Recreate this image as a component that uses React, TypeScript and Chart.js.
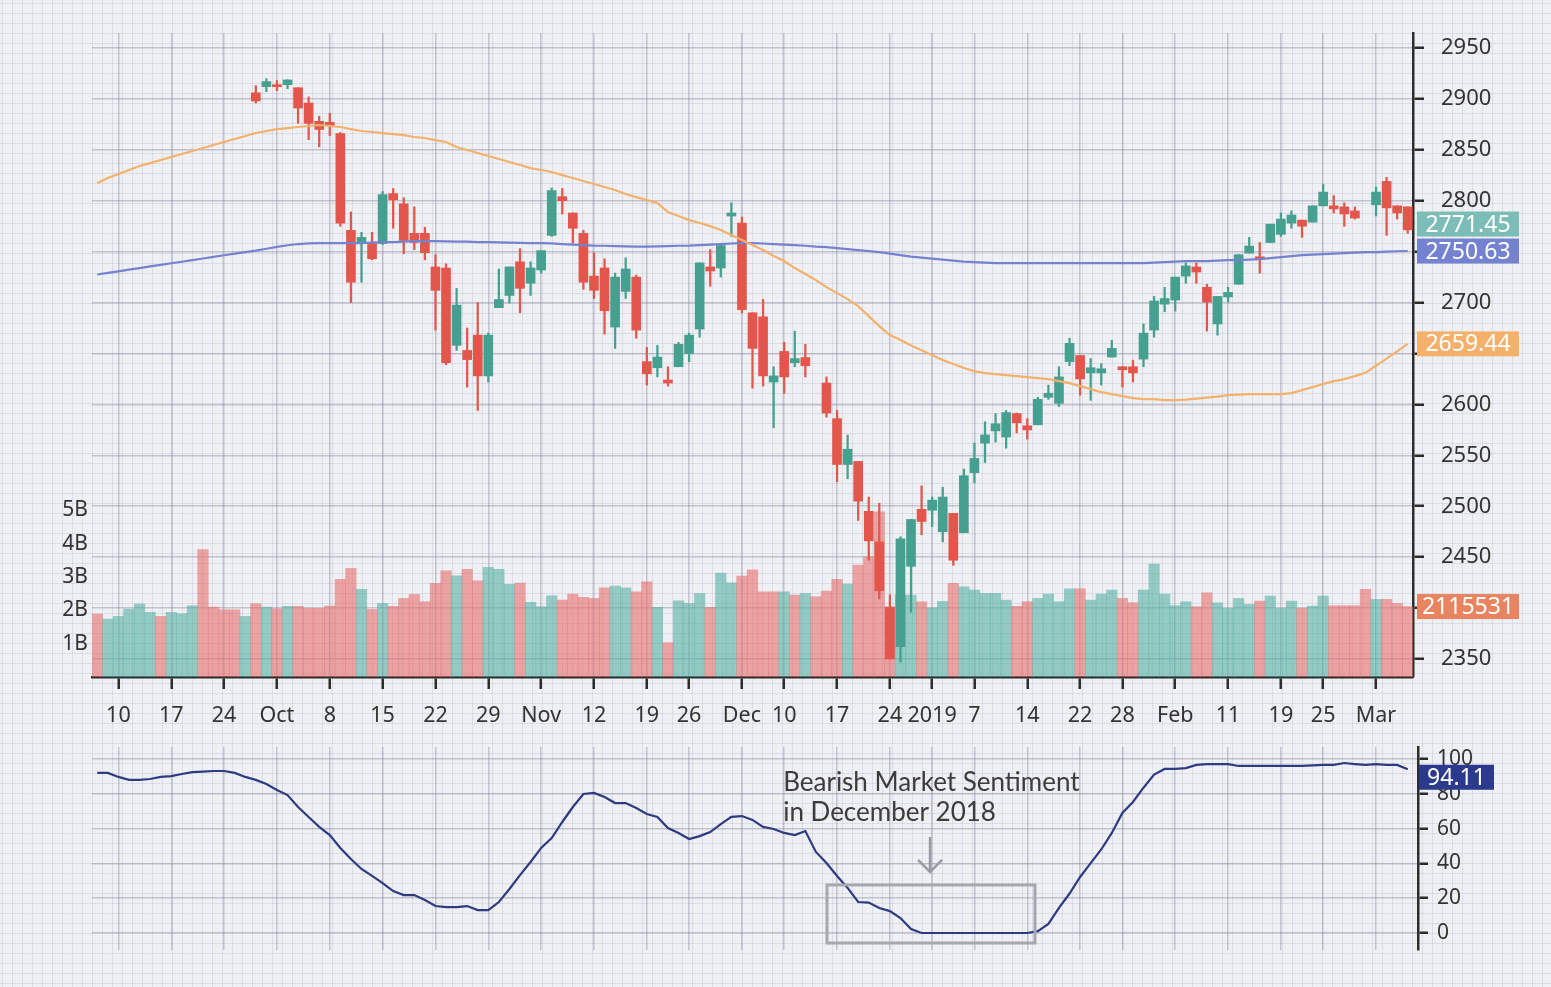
import React, { useEffect, useRef } from 'react';
import { Chart, registerables } from 'chart.js';

Chart.register(...registerables);

const N = null;

// Trading sessions shown on the x axis
const tradingDays: [string, number[]][] = [
  ['2018-09', [6, 7, 10, 11, 12, 13, 14, 17, 18, 19, 20, 21, 24, 25, 26, 27, 28]],
  ['2018-10', [1, 2, 3, 4, 5, 8, 9, 10, 11, 12, 15, 16, 17, 18, 19, 22, 23, 24, 25, 26, 29, 30, 31]],
  ['2018-11', [1, 2, 5, 6, 7, 8, 9, 12, 13, 14, 15, 16, 19, 20, 21, 23, 26, 27, 28, 29, 30]],
  ['2018-12', [3, 4, 6, 7, 10, 11, 12, 13, 14, 17, 18, 19, 20, 21, 24, 26, 27, 28, 31]],
  ['2019-01', [2, 3, 4, 7, 8, 9, 10, 11, 14, 15, 16, 17, 18, 22, 23, 24, 25, 28, 29, 30, 31]],
  ['2019-02', [1, 4, 5, 6, 7, 8, 11, 12, 13, 14, 15, 19, 20, 21, 22, 25, 26, 27, 28]],
  ['2019-03', [1, 4, 5, 6, 7]],
];
const dates = tradingDays.flatMap(([m, ds]) => ds.map((d) => `${m}-${String(d).padStart(2, '0')}`));

const tickIndex = [2, 7, 12, 17, 22, 27, 32, 37, 42, 47, 52, 56, 61, 65, 70, 75, 79, 83, 88, 93, 97, 102, 107, 112, 116, 121];
const tickText = ['10', '17', '24', 'Oct', '8', '15', '22', '29', 'Nov', '12', '19', '26', 'Dec', '10', '17', '24', '2019', '7', '14', '22', '28', 'Feb', '11', '19', '25', 'Mar'];

const open = [
  N, N, N, N, N, N, N, N, N, N,
  N, N, N, N, N, 2906, 2912, 2913, 2914, 2911,
  2896, 2878, 2877, 2866, 2771, 2758, 2758, 2758, 2807, 2797,
  2768, 2768, 2735, 2734, 2658, 2653, 2668, 2628, 2695, 2707,
  2740, 2719, 2732, 2766, 2804, 2788, 2768, 2726, 2734, 2676,
  2711, 2725, 2642, 2636, 2624, 2637, 2650, 2674, 2735, 2734,
  2785, 2778, 2690, 2686, 2622, 2652, 2641, 2646, N, 2621,
  2586, 2541, 2544, 2495, 2465, 2401, 2362, 2441, 2497, 2496,
  2475, 2493, 2474, 2533, 2562, 2574, 2568, 2591, 2579, 2580,
  2607, 2601, 2642, 2648, 2631, 2631, 2646.5, 2637, 2637, 2644.5,
  2673, 2698.5, 2702.5, 2726, 2735, 2715, 2679, 2705.5, 2718, 2748.6,
  2745, 2759, 2767, 2778, 2781, 2779, 2795, 2795, 2794, 2790,
  N, 2796, 2819, 2795, 2794,
];
const high = [
  N, N, N, N, N, N, N, N, N, N,
  N, N, N, N, N, 2913, 2920, 2918, 2919, 2911,
  2902, 2883, 2886, 2867, 2789, 2769, 2769, 2809, 2812, 2803,
  2794, 2774, 2747, 2738, 2714, 2675, 2700, 2670, 2733, 2735,
  2753, 2740, 2751, 2812.5, 2812, 2788, 2771, 2749, 2743, 2729,
  2744, 2727, 2656, 2658, 2637, 2661, 2670, 2739, 2752, 2756.5,
  2798, 2784, 2690, 2703, 2637, 2661, 2672, 2659, N, 2627,
  2594, 2570, 2544, 2509, 2503, 2413, 2470, 2487, 2520, 2509,
  2518.7, 2493, 2536.5, 2562, 2583, 2591, 2594, 2591.5, 2586, 2607,
  2619, 2637, 2665, 2648, 2645, 2640, 2663, 2637, 2643.5, 2679,
  2706, 2715, 2725, 2739, 2739, 2718, 2706, 2715, 2747, 2764,
  2759, 2777, 2788, 2790, 2781, 2795, 2816, 2805, 2798, 2794,
  N, 2813.5, 2823, 2795, 2794,
];
const low = [
  N, N, N, N, N, N, N, N, N, N,
  N, N, N, N, N, 2896, 2907, 2908, 2910, 2876,
  2860, 2853, 2864, 2775, 2700, 2720, 2742, 2757, 2773, 2748,
  2752, 2742, 2673, 2639, 2653, 2617, 2594, 2622, 2695, 2699.5,
  2690, 2707, 2729, 2765, 2787, 2758.5, 2713, 2704, 2669, 2655,
  2704, 2665, 2619, 2627, 2618, 2637, 2642, 2666, 2716, 2725,
  2765, 2690, 2616, 2618, 2577, 2611, 2637, 2627, N, 2587.5,
  2524, 2527, 2486, 2447, 2409, 2350, 2347, 2396, 2472, 2480,
  2465, 2442, 2474, 2523, 2543, 2563, 2557, 2572, 2566, 2580,
  2605, 2598, 2638, 2609, 2604, 2619, 2646.5, 2617, 2622, 2637,
  2666, 2691, 2691.6, 2719, 2719, 2672, 2668, 2700.5, 2718, 2748.6,
  2729, 2759, 2765, 2773, 2764, 2779, 2795, 2788, 2775, 2782,
  N, 2785, 2766, 2782, 2768,
];
const close = [
  N, N, N, N, N, N, N, N, N, N,
  N, N, N, N, N, 2898, 2917, 2912, 2918.6, 2891,
  2876, 2870, 2874, 2778, 2720, 2764, 2743, 2806, 2801, 2761,
  2759, 2749, 2712, 2641, 2697.5, 2644, 2628, 2668, 2703, 2735,
  2714, 2734, 2751, 2810, 2800, 2773, 2720, 2712, 2692, 2725,
  2733, 2673, 2630, 2646.5, 2621, 2659, 2668, 2739, 2731, 2756,
  2788, 2693, 2655, 2628, 2628, 2627, 2645, 2638, N, 2591.5,
  2541, 2556, 2505, 2466, 2417, 2350, 2468, 2487, 2485, 2506,
  2509, 2447, 2530, 2547, 2570, 2581, 2592, 2582, 2575, 2605,
  2611, 2627, 2660, 2625, 2636, 2635, 2655, 2634, 2631, 2670,
  2701.5, 2704, 2725, 2736, 2730, 2700.5, 2706, 2710, 2747, 2755.5,
  2743, 2777, 2782, 2786, 2775, 2795, 2808.5, 2792, 2787, 2783,
  N, 2808.5, 2793, 2788, 2771.45,
];

// Volume, in thousands of shares
const volumeK = [
  1890000, 1740000, 1820000, 2040000, 2190000, 1940000, 1820000, 1940000, 1900000, 2140000,
  3830000, 2100000, 2020000, 2020000, 1820000, 2200000, 2100000, 2050000, 2120000, 2120000,
  2060000, 2060000, 2130000, 2930000, 3260000, 2630000, 2030000, 2210000, 2120000, 2360000,
  2480000, 2260000, 2810000, 3190000, 3040000, 3230000, 2890000, 3290000, 3230000, 2780000,
  2820000, 2240000, 2110000, 2440000, 2310000, 2490000, 2390000, 2360000, 2680000, 2730000,
  2680000, 2560000, 2860000, 2090000, 1030000, 2290000, 2210000, 2510000, 2090000, 3120000,
  2830000, 3030000, 3220000, 2560000, 2560000, 2560000, 2460000, 2510000, 2410000, 2580000,
  2930000, 2790000, 3360000, 3610000, 4960000, 2100000, 2460000, 2460000, 2260000, 2070000,
  2270000, 2810000, 2710000, 2610000, 2510000, 2510000, 2310000, 2120000, 2260000, 2360000,
  2490000, 2260000, 2650000, 2650000, 2310000, 2490000, 2610000, 2360000, 2230000, 2610000,
  3390000, 2490000, 2140000, 2260000, 2110000, 2530000, 2230000, 2060000, 2360000, 2180000,
  2280000, 2430000, 2060000, 2280000, 2060000, 2130000, 2430000, 2140000, 2140000, 2140000,
  2630000, 2330000, 2330000, 2210000, 2115531,
];
const volumeUp = [
  0, 1, 1, 1, 1, 1, 0, 1, 1, 1,
  0, 0, 0, 0, 1, 0, 1, 0, 1, 0,
  0, 0, 0, 0, 0, 1, 0, 1, 0, 0,
  0, 0, 0, 0, 1, 0, 0, 1, 1, 1,
  0, 1, 1, 1, 0, 0, 0, 0, 0, 1,
  1, 0, 0, 1, 0, 1, 1, 1, 0, 1,
  1, 0, 0, 0, 0, 1, 0, 1, 0, 0,
  0, 1, 0, 0, 0, 0, 1, 1, 0, 1,
  1, 0, 1, 1, 1, 1, 1, 0, 0, 1,
  1, 1, 1, 0, 1, 1, 1, 0, 0, 1,
  1, 1, 1, 1, 0, 0, 1, 1, 1, 1,
  0, 1, 1, 1, 0, 1, 1, 0, 0, 0,
  0, 1, 0, 0, 0,
];

// Moving averages
const maFast = [
  2817.4, 2822.3, 2826.2, 2830.2, 2834.1, 2837.0, 2840.0, 2842.9, 2845.9, 2848.8,
  2851.8, 2854.7, 2857.7, 2860.6, 2863.6, 2866.5, 2868.5, 2870.4, 2871.4, 2872.4,
  2873.4, 2874.4, 2873.4, 2872.4, 2870.4, 2868.5, 2867.5, 2866.5, 2865.5, 2864.5,
  2862.6, 2861.6, 2859.6, 2857.7, 2852.7, 2849.8, 2846.9, 2843.9, 2841.0, 2838.0,
  2835.1, 2832.1, 2830.2, 2828.2, 2825.2, 2822.3, 2819.4, 2816.4, 2813.5, 2810.5,
  2806.6, 2803.6, 2800.7, 2797.7, 2788.9, 2785.0, 2781.0, 2778.1, 2775.1, 2771.2,
  2766.3, 2761.4, 2756.5, 2751.6, 2745.7, 2740.8, 2733.9, 2728.0, 2722.1, 2715.2,
  2709.3, 2703.4, 2696.5, 2686.7, 2676.9, 2668.1, 2663.2, 2657.8, 2653.3, 2648.4,
  2643.5, 2639.6, 2635.7, 2632.7, 2630.7, 2629.8, 2628.8, 2627.8, 2626.8, 2625.8,
  2624.9, 2622.9, 2620.9, 2618.0, 2615.0, 2612.1, 2610.1, 2608.2, 2606.2, 2605.2,
  2605.2, 2604.2, 2604.2, 2604.7, 2605.7, 2606.7, 2607.7, 2609.1, 2609.6, 2610.1,
  2610.1, 2610.1, 2610.1, 2611.1, 2614.0, 2617.0, 2620.0, 2622.9, 2624.9, 2627.8,
  2631.0, 2638.0, 2645.0, 2652.0, 2659.44,
];
const maSlow = [
  2727.6, 2729.2, 2730.7, 2732.3, 2733.9, 2735.6, 2737.0, 2738.6, 2740.1, 2741.7,
  2743.3, 2744.9, 2746.5, 2748.1, 2749.6, 2751.1, 2752.9, 2754.7, 2756.3, 2757.5,
  2758.1, 2758.4, 2758.4, 2758.4, 2758.4, 2758.4, 2758.9, 2759.4, 2759.4, 2759.9,
  2760.4, 2760.4, 2760.4, 2760.2, 2759.9, 2759.9, 2759.4, 2759.4, 2759.2, 2758.9,
  2758.7, 2758.4, 2758.4, 2758.2, 2757.5, 2757.0, 2756.5, 2756.0, 2755.8, 2755.5,
  2755.2, 2755.0, 2755.0, 2755.2, 2755.5, 2755.8, 2756.0, 2756.5, 2757.0, 2757.5,
  2758.0, 2758.4, 2758.4, 2758.0, 2757.5, 2757.0, 2756.5, 2755.8, 2755.0, 2754.5,
  2753.5, 2752.5, 2751.6, 2750.6, 2749.6, 2748.1, 2746.6, 2745.2, 2744.2, 2743.2,
  2742.2, 2741.2, 2740.3, 2739.8, 2739.3, 2738.8, 2738.8, 2738.8, 2738.8, 2738.8,
  2738.8, 2738.8, 2738.8, 2738.8, 2738.8, 2738.8, 2738.8, 2738.8, 2738.8, 2738.8,
  2739.3, 2739.8, 2740.3, 2740.8, 2740.8, 2740.8, 2741.2, 2741.7, 2741.7, 2742.2,
  2742.7, 2743.7, 2744.7, 2745.7, 2746.6, 2747.1, 2747.6, 2748.1, 2748.6, 2749.1,
  2749.6, 2749.6, 2750.1, 2750.4, 2750.63,
];

// Sentiment oscillator (0-100)
const oscillator = [
  92, 92, 89.7, 88, 88, 88.5, 89.7, 90.2, 91.4, 92.5,
  92.8, 93.1, 93.1, 92, 89.7, 88, 85.6, 82.2, 79.3, 72.4,
  66.7, 61, 56.3, 48.9, 42.5, 36.8, 32.8, 28.7, 24.1, 21.8,
  21.8, 19, 15.5, 14.9, 14.9, 15.5, 13.2, 13.2, 17.8, 25.3,
  33.3, 40.8, 48.9, 54.6, 63.8, 72.4, 79.9, 80.5, 78.2, 74.7,
  74.7, 71.8, 68.4, 66.7, 60.3, 57.5, 54, 55.7, 58, 62.6,
  66.7, 67.2, 65, 61, 59.8, 57.5, 56.3, 58.6, 46.6, 40.2,
  32.8, 25.9, 17.8, 17.5, 14.4, 12.6, 8.6, 2.3, 0, 0,
  0, 0, 0, 0, 0, 0, 0, 0, 0, 1.1,
  5.2, 14.4, 22.7, 32.2, 40.2, 48, 57.5, 69, 75.3, 83.5,
  91.1, 94.3, 94.3, 94.8, 96.6, 97.1, 97.1, 97.1, 96, 96,
  96, 96, 96, 96, 96, 96.3, 96.6, 96.6, 97.7, 97.1,
  96.6, 97.1, 96.6, 96.6, 94.11,
];

const priceTicks = [2350, 2400, 2450, 2500, 2550, 2600, 2650, 2700, 2750, 2800, 2850, 2900, 2950];
const volumeTicksK = [1000000, 2000000, 3000000, 4000000, 5000000];
const oscTicks = [0, 20, 40, 60, 80, 100];

const noteLines = ['Bearish Market Sentiment', 'in December 2018'];
// Annotation placement in data units (x: session index, y: oscillator value)
const noteBox = { x0: 69.05, x1: 88.73, yTop: 27.6, yBottom: -5.75 };
const noteTextAt = { x: 64.9, y1: 86.3, y2: 69.0 };
const noteArrow = { x: 78.8, yFrom: 55.2, yTo: 35.1 };

const RED = '#e2564b';
const TEAL = '#45a08f';
const VOL_RED = 'rgba(230,110,106,0.6)';
const VOL_TEAL = 'rgba(86,176,163,0.6)';
const FAST_COLOR = '#f4b16b';
const SLOW_COLOR = '#7482cf';
const OSC_COLOR = '#2f3b80';

const FONT = '"Noto Sans", "DejaVu Sans", sans-serif';
const TAG_H = 25;

function drawTag(ctx: any, x: number, yc: number, w: number, h: number, bg: string, text: string, size: number) {
  ctx.save();
  ctx.fillStyle = bg;
  ctx.fillRect(x, yc - h / 2, w, h);
  ctx.fillStyle = '#ffffff';
  ctx.font = `${size}px ${FONT}`;
  ctx.textAlign = 'center';
  ctx.textBaseline = 'middle';
  ctx.fillText(text, x + w / 2, yc + 1);
  ctx.restore();
}

export default function App() {
  const mainRef = useRef<HTMLCanvasElement | null>(null);
  const oscRef = useRef<HTMLCanvasElement | null>(null);

  useEffect(() => {
    document.body.style.margin = '0';
    document.body.style.background = '#eff0f4';
    const last = dates.length - 1;
    const gridColor = 'rgba(140,140,160,0.45)';
    const axisColor = '#2c2c2c';
    const textColor = '#333333';

    const candleColors = close.map((c, i) =>
      c === null ? 'rgba(0,0,0,0)' : (c as number) >= (open[i] as number) ? TEAL : RED
    );
    const bodies = open.map((o, i) => (o === null ? null : [o, close[i]]));
    const wicks = low.map((l, i) => (l === null ? null : [l, high[i]]));
    const volColors = volumeUp.map((u) => (u ? VOL_TEAL : VOL_RED));

    const computeTags = (chart: any) => {
      const { scales } = chart;
      const tags = [
        { v: close[last] as number, text: (close[last] as number).toFixed(2), color: '#7dbdb7', s: 'y' },
        { v: maSlow[last], text: maSlow[last].toFixed(2), color: SLOW_COLOR, s: 'y' },
        { v: maFast[last], text: maFast[last].toFixed(2), color: FAST_COLOR, s: 'y' },
        { v: volumeK[last], text: String(volumeK[last]), color: '#e8845f', s: 'yVol' },
      ].map((t) => ({ ...t, y: scales[t.s].getPixelForValue(t.v) }));
      tags.sort((a, b) => a.y - b.y);
      for (let i = tags.length - 2; i >= 0; i--) {
        if (tags[i].y > tags[i + 1].y - (TAG_H + 2)) tags[i].y = tags[i + 1].y - (TAG_H + 2);
      }
      return tags;
    };

    const priceTags = {
      id: 'priceTags',
      afterLayout(chart: any) {
        // price labels that sit under a tag are covered by it
        const tags = computeTags(chart);
        const ys = chart.scales.y;
        ys.ticks.forEach((t: any) => {
          const py = ys.getPixelForValue(t.value);
          if (tags.some((g) => Math.abs(g.y - py) < 15)) t.label = '';
        });
        ys._labelItems = null;
      },
      afterDraw(chart: any) {
        const { ctx, chartArea } = chart;
        computeTags(chart).forEach((t) => drawTag(ctx, chartArea.right + 4, t.y, 102, TAG_H, t.color, t.text, 23));
      },
    };

    const main = new Chart(mainRef.current as HTMLCanvasElement, {
      type: 'bar',
      data: {
        labels: dates,
        datasets: [
          {
            type: 'line',
            data: maFast,
            yAxisID: 'y',
            borderColor: FAST_COLOR,
            borderWidth: 2.2,
            pointRadius: 0,
            order: 1,
          } as any,
          {
            type: 'line',
            data: maSlow,
            yAxisID: 'y',
            borderColor: SLOW_COLOR,
            borderWidth: 2.2,
            pointRadius: 0,
            order: 1,
          } as any,
          {
            type: 'bar',
            data: bodies as any,
            yAxisID: 'y',
            backgroundColor: candleColors,
            barThickness: 9,
            minBarLength: 2,
            grouped: false,
            order: 2,
          } as any,
          {
            type: 'bar',
            data: wicks as any,
            yAxisID: 'y',
            backgroundColor: candleColors,
            barThickness: 1.6,
            grouped: false,
            order: 3,
          } as any,
          {
            type: 'bar',
            data: volumeK,
            yAxisID: 'yVol',
            backgroundColor: volColors,
            barPercentage: 1,
            categoryPercentage: 1,
            grouped: false,
            order: 5,
          } as any,
        ],
      },
      options: {
        animation: false,
        responsive: false,
        maintainAspectRatio: false,
        devicePixelRatio: 1,
        layout: { padding: { top: 33, left: 0, right: 0, bottom: 0 } },
        plugins: { legend: { display: false }, tooltip: { enabled: false } },
        scales: {
          x: {
            type: 'category',
            offset: true,
            afterBuildTicks: (s: any) => {
              s.ticks = tickIndex.map((v) => ({ value: v }));
            },
            afterFit: (s: any) => {
              s.height = 63;
            },
            ticks: {
              autoSkip: false,
              maxRotation: 0,
              minRotation: 0,
              padding: 14,
              color: textColor,
              font: { family: FONT, size: 21.5 },
              callback: (value: any) => {
                const k = tickIndex.indexOf(Number(value));
                return k >= 0 ? tickText[k] : '';
              },
            },
            grid: {
              offset: false,
              color: gridColor,
              lineWidth: 1.5,
              drawTicks: true,
              tickLength: 12,
              tickColor: axisColor,
              tickWidth: 2.5,
            },
            border: { display: true, color: axisColor, width: 2.5 },
          },
          y: {
            type: 'linear',
            position: 'right',
            min: 2332.32,
            max: 2964.73,
            afterBuildTicks: (s: any) => {
              s.ticks = priceTicks.map((v) => ({ value: v }));
            },
            afterFit: (s: any) => {
              s.width = 138;
            },
            ticks: {
              padding: 17,
              color: textColor,
              font: { family: FONT, size: 22 },
              callback: (v: any) => String(v),
            },
            grid: {
              color: gridColor,
              lineWidth: 1.5,
              drawTicks: true,
              tickLength: 11,
              tickColor: axisColor,
              tickWidth: 2.5,
            },
            border: { display: true, color: axisColor, width: 2.5 },
          },
          yVol: {
            type: 'linear',
            position: 'left',
            min: 0,
            max: 19340000,
            afterBuildTicks: (s: any) => {
              s.ticks = volumeTicksK.map((v) => ({ value: v }));
            },
            afterFit: (s: any) => {
              s.width = 92;
            },
            ticks: {
              padding: 4,
              color: textColor,
              font: { family: FONT, size: 21 },
              callback: (v: any) => `${Number(v) / 1000000}B`,
            },
            grid: { display: false, drawTicks: false, tickLength: 0 },
            border: { display: false },
          },
        },
      } as any,
      plugins: [priceTags],
    });

    const oscTag = {
      id: 'oscTag',
      afterDraw(chart: any) {
        const { ctx, chartArea, scales } = chart;
        const v = oscillator[last];
        drawTag(ctx, chartArea.right + 1, scales.y.getPixelForValue(v) + 8, 75, TAG_H, '#2b3a8c', v.toFixed(2), 23);
      },
    };

    const note = {
      id: 'note',
      afterDatasetsDraw(chart: any) {
        const { ctx, scales } = chart;
        const x = scales.x;
        const y = scales.y;
        ctx.save();
        const rx0 = x.getPixelForValue(noteBox.x0);
        const rx1 = x.getPixelForValue(noteBox.x1);
        const ry0 = y.getPixelForValue(noteBox.yTop);
        const ry1 = y.getPixelForValue(noteBox.yBottom);
        ctx.strokeStyle = '#a7a7b0';
        ctx.lineWidth = 3;
        ctx.strokeRect(rx0, ry0, rx1 - rx0, ry1 - ry0);
        const ax = x.getPixelForValue(noteArrow.x);
        const ay0 = y.getPixelForValue(noteArrow.yFrom);
        const ay1 = y.getPixelForValue(noteArrow.yTo);
        ctx.strokeStyle = '#9a9aa2';
        ctx.lineWidth = 2.5;
        ctx.beginPath();
        ctx.moveTo(ax, ay0);
        ctx.lineTo(ax, ay1);
        ctx.moveTo(ax - 12, ay1 - 12);
        ctx.lineTo(ax, ay1);
        ctx.lineTo(ax + 12, ay1 - 12);
        ctx.stroke();
        ctx.fillStyle = '#3c3c3c';
        ctx.font = `26px Lato, ${FONT}`;
        ctx.textAlign = 'left';
        ctx.textBaseline = 'middle';
        const tx = x.getPixelForValue(noteTextAt.x);
        ctx.fillText(noteLines[0], tx, y.getPixelForValue(noteTextAt.y1));
        ctx.fillText(noteLines[1], tx, y.getPixelForValue(noteTextAt.y2));
        ctx.restore();
      },
    };

    const osc = new Chart(oscRef.current as HTMLCanvasElement, {
      type: 'line',
      data: {
        datasets: [
          {
            data: oscillator.map((v, i) => ({ x: i, y: v })),
            borderColor: OSC_COLOR,
            borderWidth: 2.2,
            pointRadius: 0,
            tension: 0,
          },
        ],
      },
      options: {
        animation: false,
        responsive: false,
        maintainAspectRatio: false,
        devicePixelRatio: 1,
        layout: { padding: { top: 7, left: 92, right: 0, bottom: 0 } },
        plugins: { legend: { display: false }, tooltip: { enabled: false } },
        scales: {
          x: {
            type: 'linear',
            min: -0.5,
            max: 124.973,
            afterBuildTicks: (s: any) => {
              s.ticks = tickIndex.map((v) => ({ value: v }));
            },
            afterFit: (s: any) => {
              s.height = 37;
              s.paddingLeft = 0;
              s.paddingRight = 0;
            },
            ticks: { display: false },
            grid: { color: gridColor, lineWidth: 1.5, drawTicks: false },
            border: { display: false },
          },
          y: {
            type: 'linear',
            position: 'right',
            min: -9.77,
            max: 106.9,
            afterBuildTicks: (s: any) => {
              s.ticks = oscTicks.map((v) => ({ value: v }));
            },
            afterFit: (s: any) => {
              s.width = 133;
              s.paddingTop = 0;
              s.paddingBottom = 0;
            },
            ticks: {
              padding: 9,
              color: textColor,
              font: { family: FONT, size: 21 },
              callback: (v: any) => String(v),
            },
            grid: {
              color: gridColor,
              lineWidth: 1.5,
              drawTicks: true,
              tickLength: 10,
              tickColor: axisColor,
              tickWidth: 2.5,
            },
            border: { display: true, color: axisColor, width: 2.5 },
          },
        },
      } as any,
      plugins: [note, oscTag],
    });

    return () => {
      main.destroy();
      osc.destroy();
    };
  }, []);

  return (
    <div
      style={{
        position: 'absolute',
        left: 0,
        top: 0,
        width: 1551,
        height: 987,
        overflow: 'hidden',
        backgroundColor: '#eff0f4',
        backgroundImage:
          'linear-gradient(to right, rgba(180,180,200,0.32) 1px, transparent 1px), linear-gradient(to bottom, rgba(180,180,200,0.32) 1px, transparent 1px)',
        backgroundSize: '10px 10px',
        backgroundPosition: '2px 3px',
      }}
    >
      <canvas ref={mainRef} width={1551} height={740} style={{ position: 'absolute', left: 0, top: 0 }} />
      <canvas ref={oscRef} width={1551} height={247} style={{ position: 'absolute', left: 0, top: 740 }} />
    </div>
  );
}
